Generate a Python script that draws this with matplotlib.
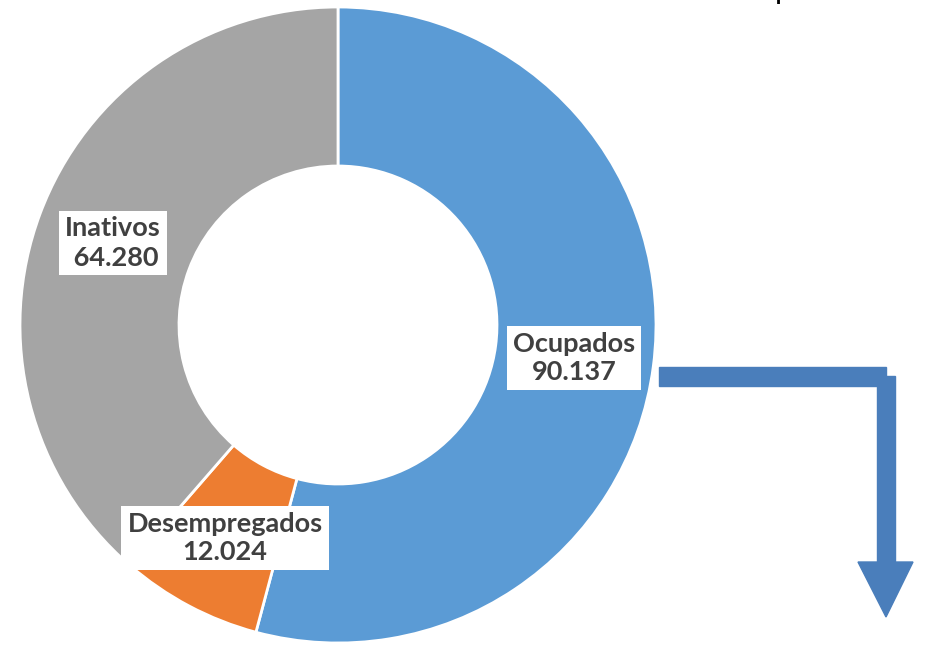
import matplotlib
matplotlib.use("Agg")
import matplotlib.pyplot as plt
from matplotlib.patches import Rectangle, Polygon

# dados (milhares de pessoas)
categorias = ["Ocupados", "Desempregados", "Inativos"]
valores = [90137, 12024, 64280]
rotulos = ["90.137", "12.024", " 64.280"]
cores = ["#5B9BD5", "#ED7D31", "#A5A5A5"]

# posição dos rótulos (pixels, origem em baixo à esquerda)
pos_rotulos = [(574, 287), (225, 107), (113, 402)]

W, H = 925, 645
fig = plt.figure(figsize=(W / 100, H / 100), dpi=100)
ax = fig.add_axes([0, 0, 1, 1])
ax.set_xlim(0, W)
ax.set_ylim(0, H)
ax.set_aspect("equal")
ax.axis("off")

ax.pie(valores, colors=cores, startangle=90, counterclock=False,
       center=(338, 320), radius=318,
       wedgeprops=dict(width=159, edgecolor="white", linewidth=2))
ax.set_xlim(0, W)
ax.set_ylim(0, H)

for nome, rot, (x, y) in zip(categorias, rotulos, pos_rotulos):
    ax.text(x, y, nome + "\n" + rot, ha="center", va="center",
            fontsize=19.5, fontweight="bold", family="Lato", color="#404040",
            linespacing=1.25,
            bbox=dict(boxstyle="square,pad=0.22", fc="white", ec="none"))

# seta em L
azul = "#4A7EBB"
ax.add_patch(Rectangle((659, 645 - 386), 227, 19, color=azul))
ax.add_patch(Rectangle((877, 645 - 563), 18, 187, color=azul))
ax.add_patch(Polygon([(858, 645 - 562), (913, 645 - 562), (886, 645 - 617)],
                     color=azul))

# título cortado no topo
fig.text(783 / W, 1.0 + 1 / H, "p", ha="center", va="baseline",
         fontsize=22, family="Lato", color="black")

fig.savefig("out.png", dpi=100)
